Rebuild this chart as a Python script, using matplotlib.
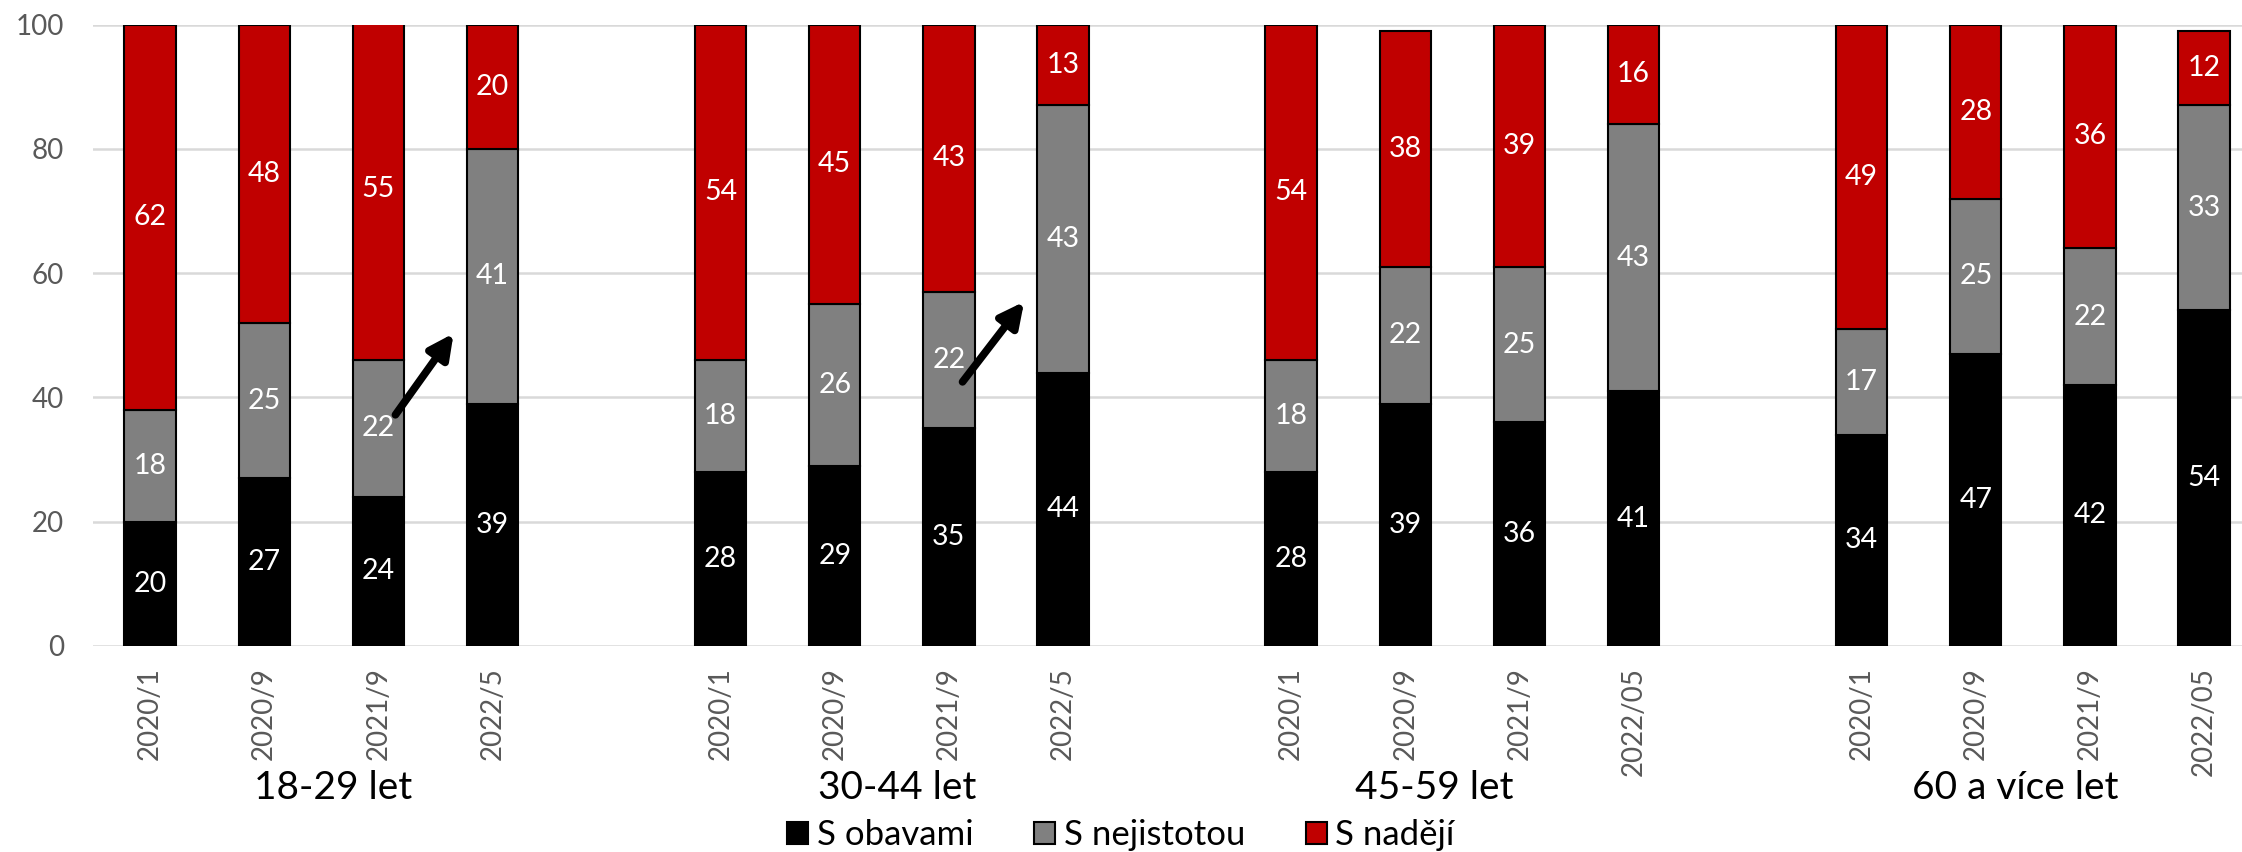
import matplotlib
matplotlib.use("Agg")
import matplotlib.pyplot as plt
from matplotlib.patches import Patch
import numpy as np

plt.rcParams['font.family'] = ['Lato', 'DejaVu Sans']

# age groups and survey waves
groups = ["18-29 let", "30-44 let", "45-59 let", "60 a více let"]
waves = [["2020/1", "2020/9", "2021/9", "2022/5"],
         ["2020/1", "2020/9", "2021/9", "2022/5"],
         ["2020/1", "2020/9", "2021/9", "2022/05"],
         ["2020/1", "2020/9", "2021/9", "2022/05"]]

# shares in % per wave, group after group
obavy = [20, 27, 24, 39, 28, 29, 35, 44, 28, 39, 36, 41, 34, 47, 42, 54]
nejistota = [18, 25, 22, 41, 18, 26, 22, 43, 18, 22, 25, 43, 17, 25, 22, 33]
nadeje = [62, 48, 55, 20, 54, 45, 43, 13, 54, 38, 39, 16, 49, 28, 36, 12]

series = [("S obavami", obavy, "#000000"),
          ("S nejistotou", nejistota, "#808080"),
          ("S nadějí", nadeje, "#C00000")]

# one empty slot between the age groups
pos = np.array([g * 5 + i for g in range(len(groups)) for i in range(4)])

fig = plt.figure(figsize=(22.42, 8.52), dpi=100)
ax = fig.add_axes([0.0415, 0.2418, 0.967, 0.7294])

bottom = np.zeros(len(pos))
for name, vals, col in series:
    vals = np.array(vals, dtype=float)
    ax.bar(pos, vals, bottom=bottom, width=0.45, color=col,
           edgecolor="black", linewidth=1.5, zorder=3)
    for x, b, v in zip(pos, bottom, vals):
        ax.text(x, b + v / 2, f"{v:.0f}", ha="center", va="center",
                color="white", fontsize=20.5, zorder=4)
    bottom += vals

# arrows pointing at the latest wave
for x0, y0, x1, y1 in [(2.15, 37.2, 2.66, 50.3), (7.12, 42.5, 7.66, 55.4)]:
    ax.annotate("", xy=(x1, y1), xytext=(x0, y0),
                arrowprops=dict(arrowstyle="-|>", lw=5.5, color="black",
                                mutation_scale=36, shrinkA=0, shrinkB=0),
                zorder=5)

ax.set_xlim(-0.5, 18.5)
ax.set_ylim(0, 100)
ax.set_yticks([0, 20, 40, 60, 80, 100])
ax.tick_params(axis="y", length=0, labelsize=20, labelcolor="#595959", pad=21)
ax.set_xticks(pos)
ax.set_xticklabels([w for ws in waves for w in ws], rotation=90,
                   fontsize=20, color="#595959")
ax.tick_params(axis="x", length=0, pad=15)
for side in ["top", "bottom", "right", "left"]:
    ax.spines[side].set_visible(False)
ax.yaxis.grid(True, color="#D9D9D9", linewidth=1.8, zorder=0)
ax.set_axisbelow(True)

# age group names under the wave labels
for x, g in zip([1.6, 6.55, 11.25, 16.35], groups):
    ax.text(x, -0.2285, g, transform=ax.get_xaxis_transform(),
            ha="center", va="center", fontsize=28, color="black")

handles = [Patch(facecolor=c, edgecolor="black", linewidth=1.5, label=n)
           for n, _, c in series]
fig.legend(handles=handles, loc="center", bbox_to_anchor=(0.5, 0.02),
           ncol=3, frameon=False, fontsize=25, handlelength=0.6,
           handleheight=0.6, handletextpad=0.25, columnspacing=1.75)

fig.savefig("out.png", dpi=100)
